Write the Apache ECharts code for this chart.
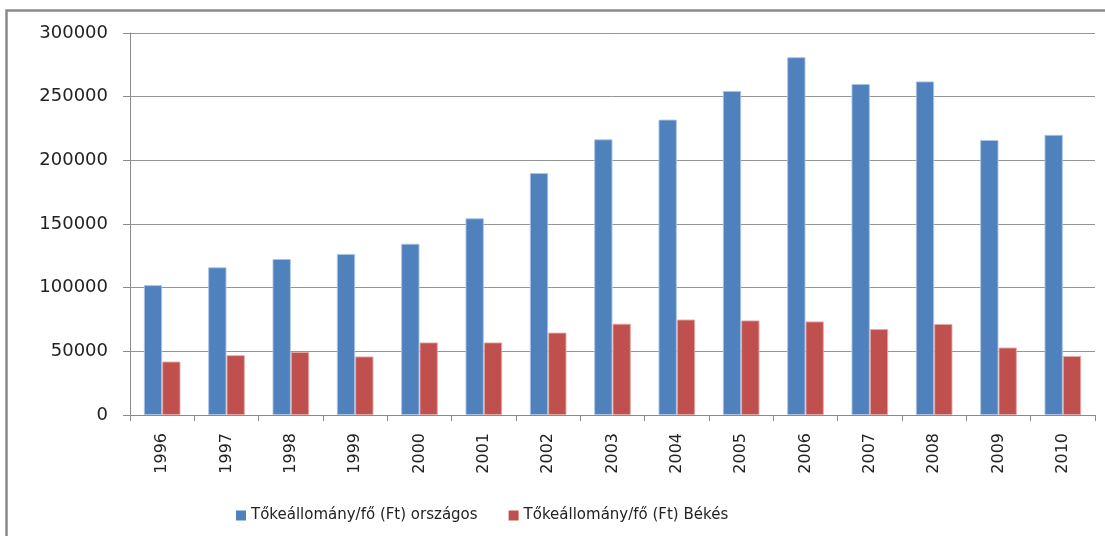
<!DOCTYPE html>
<html>
<head>
<meta charset="utf-8">
<script src="https://cdn.jsdelivr.net/npm/echarts@6/dist/echarts.min.js"></script>
<style>
  html, body { margin: 0; padding: 0; background: #fff; }
  #chart { width: 1105px; height: 536px; }
</style>
</head>
<body>
<div id="chart"></div>
<script>
// Years on the category axis
const years = ['1996','1997','1998','1999','2000','2001','2002','2003','2004','2005','2006','2007','2008','2009','2010'];
// Capital stock per person (Ft), national
const orszagos = [102000, 116000, 122500, 126500, 134500, 154500, 190000, 216500, 232000, 254500, 281000, 260000, 262000, 216000, 220000];
// Capital stock per person (Ft), Békés county
const bekes = [42000, 47000, 49500, 46000, 57000, 57000, 64700, 71700, 75000, 74300, 73500, 67500, 71500, 53000, 46300];
// Series names shown in the legend
const seriesNames = ['Tőkeállomány/fő (Ft) országos', 'Tőkeállomány/fő (Ft) Békés'];

const chart = echarts.init(document.getElementById('chart'), null, { renderer: 'canvas' });
const font = 'DejaVu Sans';

chart.setOption({
  animation: false,
  backgroundColor: '#ffffff',
  // chart frame: only its left and top edges fall inside the page
  graphic: [{
    type: 'polyline',
    shape: { points: [[6.5, 536], [6.5, 10.5], [1105, 10.5]] },
    style: { fill: 'none', stroke: '#8a8a8a', lineWidth: 2.5 },
    silent: true
  }],
  grid: { left: 130, right: 10, top: 33, bottom: 121, containLabel: false },
  legend: {
    left: 231,
    top: 503,
    itemWidth: 10,
    itemHeight: 10,
    itemGap: 31,
    icon: 'rect',
    itemStyle: { borderWidth: 0 },
    textStyle: { fontFamily: font, fontSize: 15, color: '#222' },
    data: seriesNames
  },
  xAxis: {
    type: 'category',
    data: years,
    boundaryGap: true,
    axisLine: { lineStyle: { color: '#8a8a8a', width: 1 } },
    axisTick: { show: true, length: 6, lineStyle: { color: '#8a8a8a' } },
    axisLabel: { rotate: 90, margin: 18, fontFamily: font, fontSize: 16, color: '#222', interval: 0 }
  },
  yAxis: {
    type: 'value',
    min: 0,
    max: 300000,
    interval: 50000,
    axisLine: { show: true, lineStyle: { color: '#8a8a8a', width: 1 } },
    axisTick: { show: true, inside: false, length: 7, lineStyle: { color: '#8a8a8a' } },
    axisLabel: { margin: 22, fontFamily: font, fontSize: 18, color: '#222', formatter: (v) => String(v) },
    splitLine: { show: true, lineStyle: { color: '#959595', width: 1 } }
  },
  series: [
    {
      name: seriesNames[0],
      type: 'bar',
      data: orszagos,
      barGap: '0%',
      barCategoryGap: '43%',
      itemStyle: { color: '#4F81BD', borderColor: 'rgba(170,195,228,0.9)', borderWidth: 1 }
    },
    {
      name: seriesNames[1],
      type: 'bar',
      data: bekes,
      barGap: '0%',
      barCategoryGap: '43%',
      itemStyle: { color: '#C0504D', borderColor: 'rgba(226,168,166,0.9)', borderWidth: 1 }
    }
  ]
});
</script>
</body>
</html>
